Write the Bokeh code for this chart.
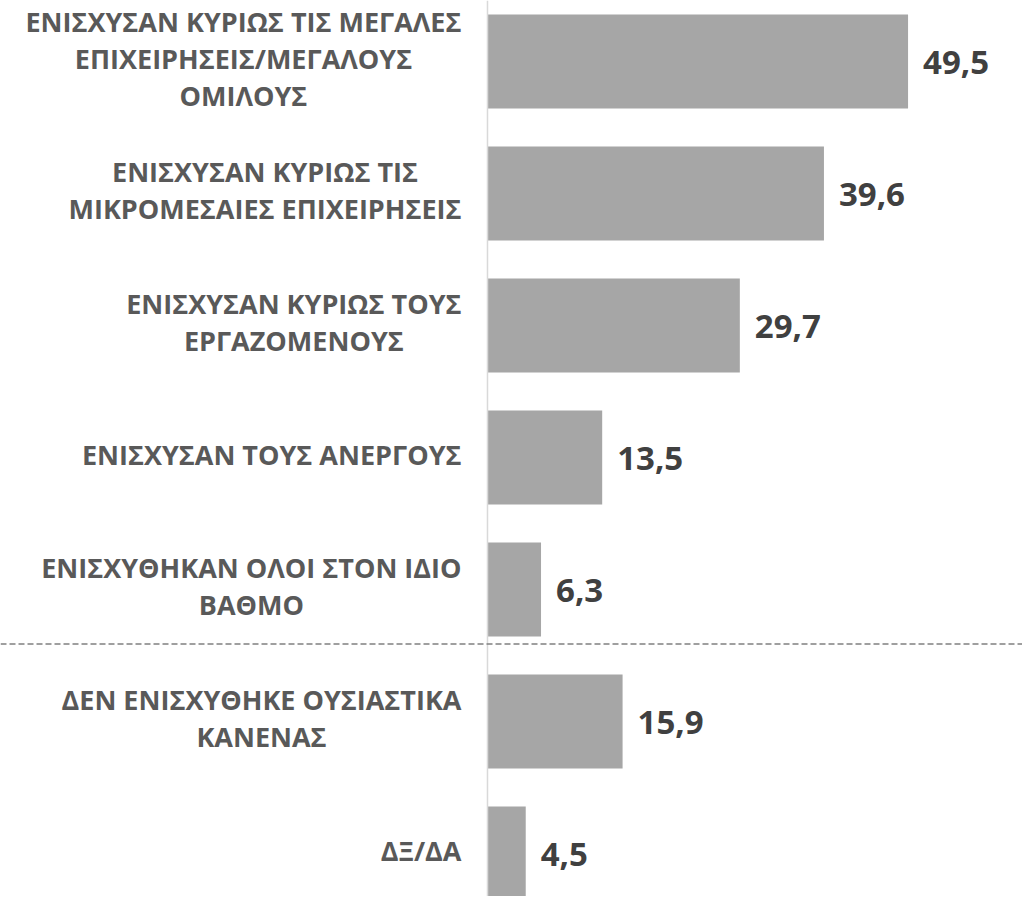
from bokeh.plotting import figure
from bokeh.models import ColumnDataSource, Range1d, Span
from bokeh.core.properties import value
from bokeh.embed import file_html
from bokeh.resources import INLINE

categories = [
    "ΕΝΙΣΧΥΣΑΝ ΚΥΡΙΩΣ ΤΙΣ ΜΕΓΑΛΕΣ\nΕΠΙΧΕΙΡΗΣΕΙΣ/ΜΕΓΑΛΟΥΣ\nΟΜΙΛΟΥΣ",
    "ΕΝΙΣΧΥΣΑΝ ΚΥΡΙΩΣ ΤΙΣ\nΜΙΚΡΟΜΕΣΑΙΕΣ ΕΠΙΧΕΙΡΗΣΕΙΣ",
    "ΕΝΙΣΧΥΣΑΝ ΚΥΡΙΩΣ ΤΟΥΣ\nΕΡΓΑΖΟΜΕΝΟΥΣ",
    "ΕΝΙΣΧΥΣΑΝ ΤΟΥΣ ΑΝΕΡΓΟΥΣ",
    "ΕΝΙΣΧΥΘΗΚΑΝ ΟΛΟΙ ΣΤΟΝ ΙΔΙΟ\nΒΑΘΜΟ",
    "ΔΕΝ ΕΝΙΣΧΥΘΗΚΕ ΟΥΣΙΑΣΤΙΚΑ\nΚΑΝΕΝΑΣ",
    "ΔΞ/ΔΑ",
]
values = [49.5, 39.6, 29.7, 13.5, 6.3, 15.9, 4.5]
value_labels = [f"{v:.1f}".replace(".", ",") for v in values]
positions = list(range(len(categories)))
zeros = [0] * len(categories)

src = ColumnDataSource(dict(
    y=positions, v=values, lab=value_labels, cat=categories, zero=zeros,
))

W, H = 1022, 896
p = figure(width=W, height=H, output_backend="svg", toolbar_location=None,
           x_range=Range1d(-57.32, 62.97), y_range=Range1d(6.326, -0.462),
           min_border_left=0, min_border_right=0, min_border_top=0, min_border_bottom=0)
p.axis.visible = False
p.grid.visible = False
p.outline_line_color = None
p.background_fill_color = "white"
p.border_fill_color = "white"

p.hbar(y="y", left=0, right="v", height=0.712, source=src,
       fill_color="#A6A6A6", line_color=None)

p.add_layout(Span(location=0, dimension="height", line_color="#D9D9D9", line_width=1.5))
p.add_layout(Span(location=4.414, dimension="width", line_color="#808080",
                  line_width=1.5, line_dash="6 3"))

p.text(x="v", y="y", text="lab", source=src, x_offset=15, y_offset=1,
       text_font=value("Open Sans"), text_font_style="bold", text_font_size="33px",
       text_color="#404040", text_baseline="middle", text_align="left")

p.text(x="zero", y="y", text="cat", source=src, x_offset=-26, y_offset=-3,
       text_font=value("Open Sans"), text_font_style="bold", text_font_size="27px",
       text_color="#595959", text_baseline="middle", text_align="center",
       anchor="center_right", text_line_height=1.0)

open("out.html", "w").write(file_html(p, INLINE))
